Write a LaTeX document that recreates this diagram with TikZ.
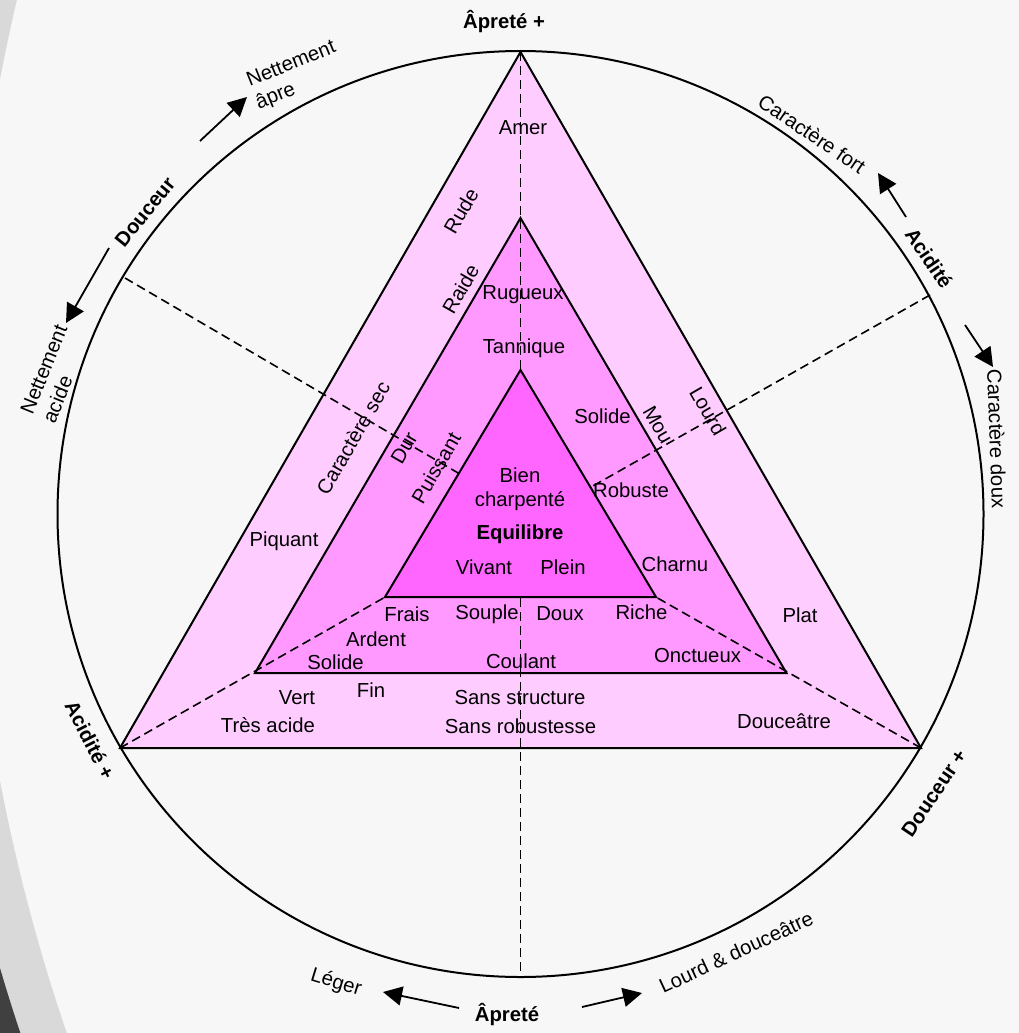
\documentclass[tikz,border=0pt]{standalone}
\usepackage{fontspec}
\setmainfont{Liberation Sans}
\usetikzlibrary{arrows.meta}
\definecolor{bgc}{HTML}{F7F7F7}
\definecolor{lgreyc}{HTML}{D9D9D9}
\definecolor{dgreyc}{HTML}{404040}
\definecolor{pinkA}{HTML}{FFCCFF}
\definecolor{pinkB}{HTML}{FF99FF}
\definecolor{pinkC}{HTML}{FF66FF}
\begin{document}
\begin{tikzpicture}[x=1pt,y=-1pt,
  lbl/.style={inner sep=0pt,font=\fontsize{20.3}{24}\selectfont},
  blbl/.style={inner sep=0pt,font=\fontsize{20.3}{24}\selectfont\bfseries},
  tri/.style={draw=black,line width=2pt,line join=miter},
  ray/.style={draw=black,line width=1.6pt,dash pattern=on 9pt off 5pt},
  arr/.style={draw=black,line width=1.8pt,-{Triangle[length=19pt,width=19pt]}}]
\useasboundingbox (0,0) rectangle (1019,1033);
\fill[bgc] (0,0) rectangle (1019,1033);
% slide decoration on the left
\begin{scope}
\clip (0,0) rectangle (200,1033);
\fill[lgreyc,even odd rule] (-50,-50) rectangle (250,1100) (1829,430) circle[radius=1862pt];
\fill[dgreyc,even odd rule] (-50,-50) rectangle (250,1100) (1829,430) circle[radius=1906pt];
\end{scope}
% geometry
\coordinate (O) at (520.5,514);
\coordinate (A1) at (520.5,52);
\coordinate (B1) at (120,748);
\coordinate (C1) at (921,748);
\coordinate (A2) at (520.5,218);
\coordinate (B2) at (255,673);
\coordinate (C2) at (786.5,673);
\coordinate (A3) at (520.5,370);
\coordinate (B3) at (385,597);
\coordinate (C3) at (656,597);
\coordinate (Pbot) at (520.5,977);
\coordinate (Pul) at (125,278);
\coordinate (Pur) at (930,295);
\coordinate (Eul) at (520.5,509.5);
\coordinate (Eur) at (520.5,527);
\coordinate (Elow) at (520.5,520);
% circle
\node[draw=black,circle,minimum size=926pt,inner sep=0pt,line width=2pt] (ring) at (O) {};
% triangles and rays
\filldraw[tri,fill=pinkA] (A1) -- (B1) -- (C1) -- cycle;
\filldraw[tri,fill=pinkB] (A2) -- (B2) -- (C2) -- cycle;
\draw[ray] (A1) -- (Pbot);
\draw[ray] (Pul) -- (Eul);
\draw[ray] (Pur) -- (Eur);
\draw[ray] (B1) -- (Elow);
\draw[ray] (C1) -- (Elow);
\filldraw[tri,fill=pinkC] (A3) -- (B3) -- (C3) -- cycle;
% outer labels
\node[blbl] (apretePlus) at (504,21.5) {Âpreté +};
\node[lbl,align=left,rotate=22] (netApre) at (296,76) {Nettement\\âpre};
\node[blbl,rotate=51] (douceur) at (145,212) {Douceur};
\node[lbl,align=left,rotate=68] (netAcide) at (55,374) {Nettement\\acide};
\node[lbl,rotate=-34] (carFort) at (812,134) {Caractère fort};
\node[blbl,rotate=-56] (acidite) at (929,258) {Acidité};
\node[lbl,rotate=-88] (carDoux) at (997,439) {Caractère doux};
\node[blbl,rotate=56] (douceurPlus) at (934,793) {Douceur +};
\node[lbl,rotate=25] (lourdDouc) at (736,952) {Lourd \& douceâtre};
\node[blbl] (apreteBas) at (507,1014) {Âpreté};
\node[lbl,rotate=-17] (leger) at (336,983) {Léger};
\node[blbl,rotate=-63] (aciditePlus) at (90,740) {Acidité +};
% arrows
\coordinate (a1s) at (200,141); \coordinate (a1e) at (247,97);
\coordinate (a2s) at (109,248); \coordinate (a2e) at (66,323);
\coordinate (a3s) at (906,217); \coordinate (a3e) at (878,173);
\coordinate (a4s) at (965,325); \coordinate (a4e) at (993,367);
\coordinate (a5s) at (459,1008); \coordinate (a5e) at (383,992);
\coordinate (a6s) at (582,1007); \coordinate (a6e) at (642,993);
\draw[arr] (a1s) -- (a1e);
\draw[arr] (a2s) -- (a2e);
\draw[arr] (a3s) -- (a3e);
\draw[arr] (a4s) -- (a4e);
\draw[arr] (a5s) -- (a5e);
\draw[arr] (a6s) -- (a6e);
% inner labels
\node[lbl] (amer) at (523,128) {Amer};
\node[lbl,rotate=60] (rude) at (461,211) {Rude};
\node[lbl,rotate=60] (raide) at (460.5,289) {Raide};
\node[lbl] (rugueux) at (523,295) {Rugueux};
\node[lbl] (tannique) at (524,348) {Tannique};
\node[lbl,rotate=60] (carSec) at (353,438) {Caractère sec};
\node[lbl,rotate=60] (dur) at (404,448) {Dur};
\node[lbl,rotate=60] (puissant) at (436,468) {Puissant};
\node[lbl] (solideR) at (602.5,416.5) {Solide};
\node[lbl,rotate=-60] (mou) at (658,425) {Mou};
\node[lbl,rotate=-60] (lourd) at (708,411) {Lourd};
\node[lbl,align=center] (bien) at (520,489) {Bien\\charpenté};
\node[blbl] (equilibre) at (520,534) {Equilibre};
\node[lbl] (vivant) at (484,567.5) {Vivant};
\node[lbl] (plein) at (563,567.5) {Plein};
\node[lbl] (robuste) at (631,490.5) {Robuste};
\node[lbl] (charnu) at (675,564) {Charnu};
\node[lbl] (piquant) at (284,541) {Piquant};
\node[lbl] (frais) at (407,614) {Frais};
\node[lbl] (souple) at (487,614) {Souple};
\node[lbl] (doux) at (560,614) {Doux};
\node[lbl] (riche) at (641.5,612) {Riche};
\node[lbl] (ardent) at (376,639) {Ardent};
\node[lbl] (solideL) at (335.5,662.5) {Solide};
\node[lbl] (coulant) at (521,661) {Coulant};
\node[lbl] (onctueux) at (697.5,656) {Onctueux};
\node[lbl] (plat) at (800,615) {Plat};
\node[lbl] (vert) at (297,697.5) {Vert};
\node[lbl] (fin) at (371,690.5) {Fin};
\node[lbl] (sansStruct) at (520,697.5) {Sans structure};
\node[lbl] (tresAcide) at (268,725.5) {Très acide};
\node[lbl] (sansRob) at (520.5,726) {Sans robustesse};
\node[lbl] (douceatre) at (784,721) {Douceâtre};
\end{tikzpicture}
\end{document}
